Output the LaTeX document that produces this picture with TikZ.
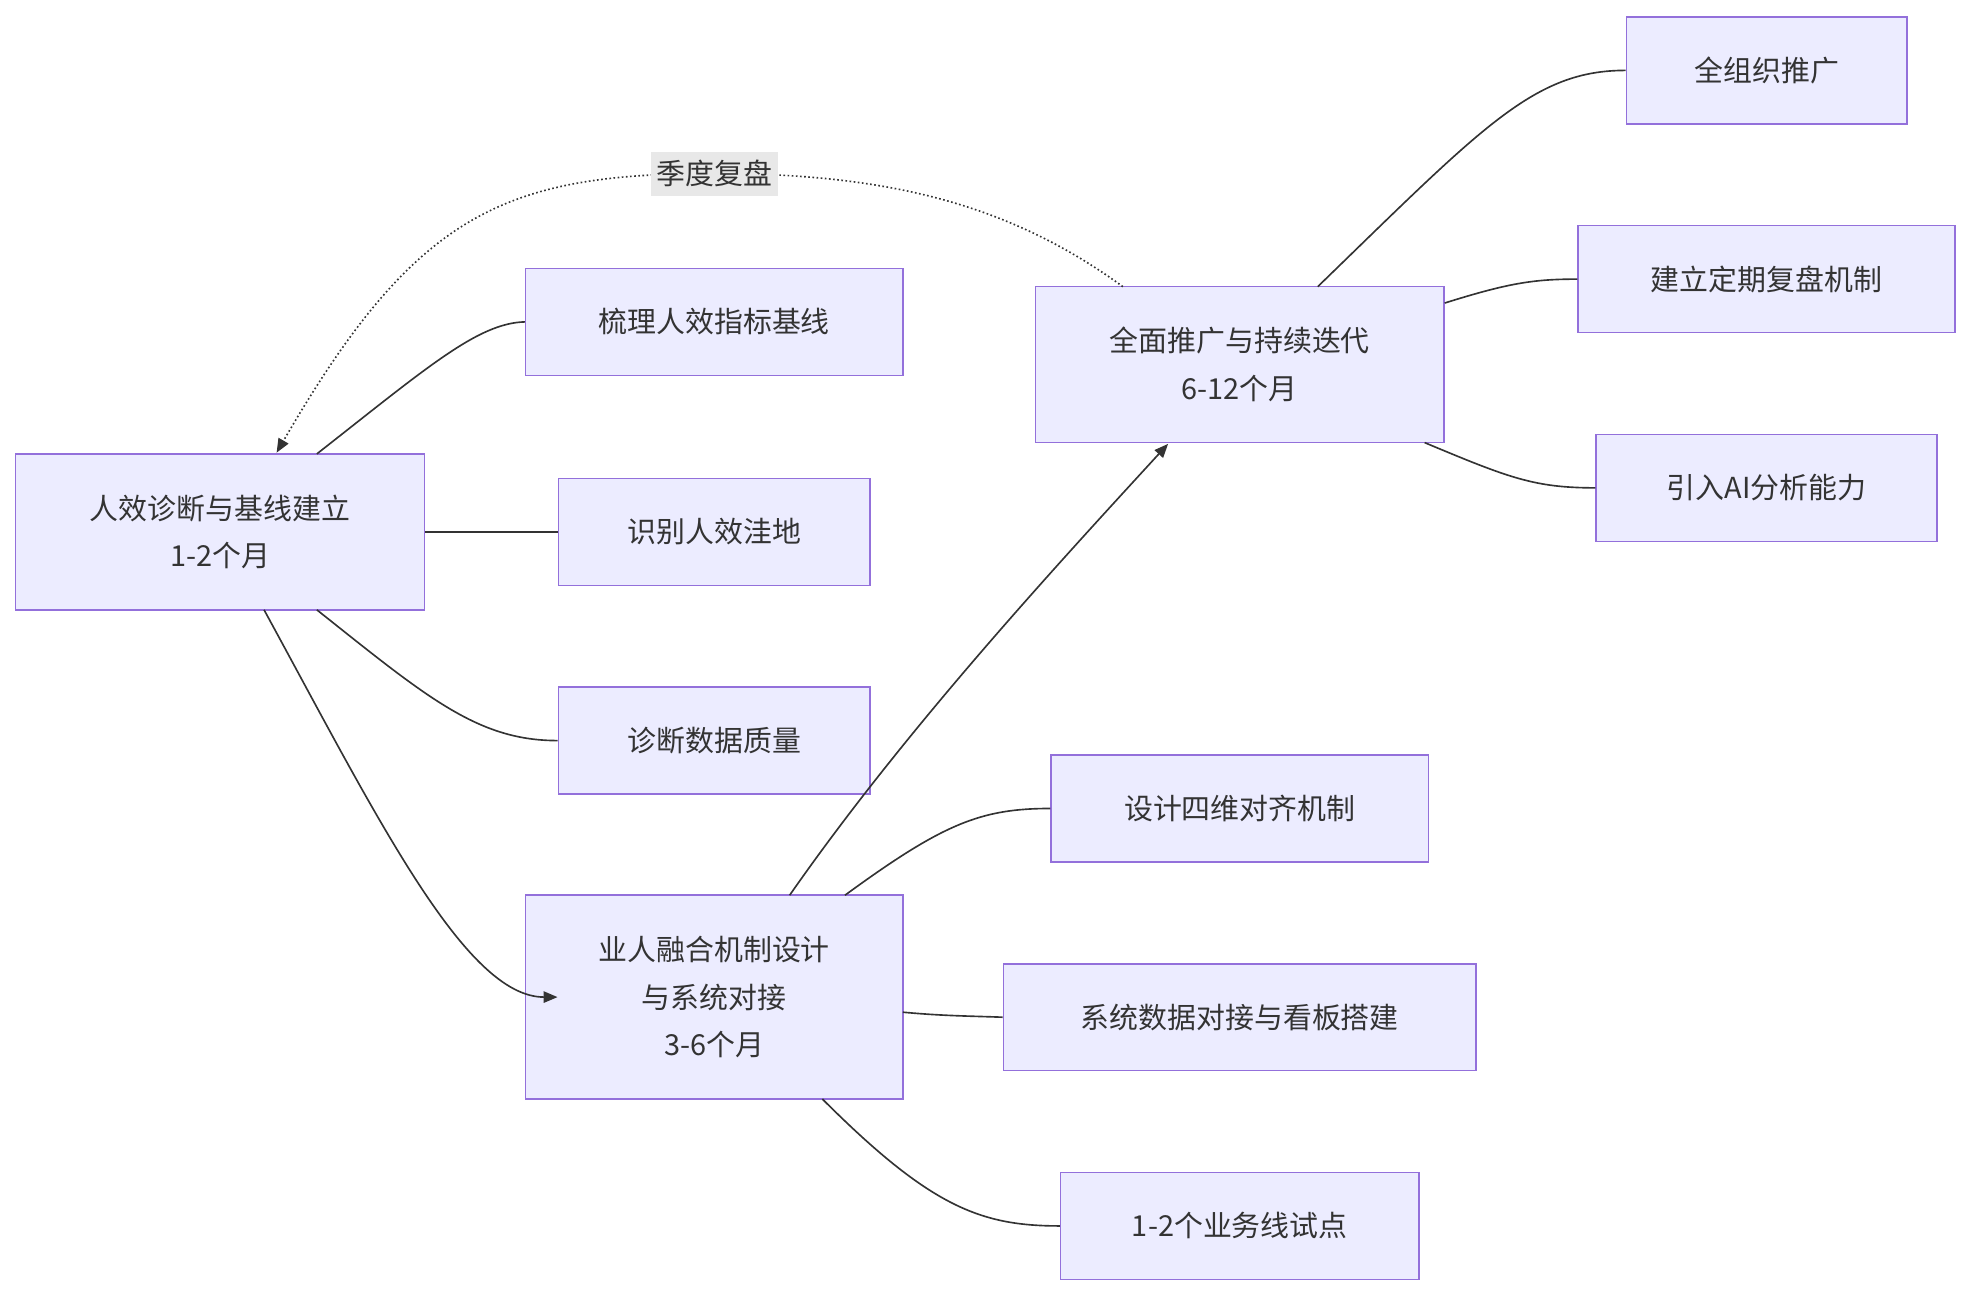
\documentclass[tikz,border=0pt]{standalone}
\usepackage{fontspec}
\setmainfont{Noto Sans CJK SC}
\usetikzlibrary{arrows.meta}
\begin{document}
\begin{tikzpicture}[x=1pt,y=1pt,
  box/.style={draw=mmstroke,fill=mmfill,line width=1.2pt,inner sep=0pt,align=center,text=mmtext,font=\fontsize{23}{38}\selectfont},
  ln/.style={draw=mmline,line width=1.3pt},
  ar/.style={ln,-{Triangle[length=11pt,width=9pt]}}]
\definecolor{mmfill}{HTML}{ECECFF}
\definecolor{mmstroke}{HTML}{9370DB}
\definecolor{mmline}{HTML}{333333}
\definecolor{mmtext}{HTML}{333333}
\definecolor{lblbg}{HTML}{E8E8E8}
\useasboundingbox (0,0) rectangle (1562,-1027);
\node[box,minimum width=325,minimum height=124] (A) at (175,-423) {人效诊断与基线建立\\1-2个月};
\node[box,minimum width=300,minimum height=85] (B1) at (568,-256) {梳理人效指标基线};
\node[box,minimum width=248,minimum height=85] (B2) at (568,-423) {识别人效洼地};
\node[box,minimum width=248,minimum height=85] (B3) at (568,-589) {诊断数据质量};
\node[box,minimum width=300,minimum height=162] (C) at (568,-793) {业人融合机制设计\\与系统对接\\3-6个月};
\node[box,minimum width=300,minimum height=85] (C1) at (986,-643) {设计四维对齐机制};
\node[box,minimum width=376,minimum height=85] (C2) at (986,-809) {系统数据对接与看板搭建};
\node[box,minimum width=285,minimum height=85] (C3) at (986,-975) {1-2个业务线试点};
\node[box,minimum width=325,minimum height=124] (D) at (986,-290) {全面推广与持续迭代\\6-12个月};
\node[box,minimum width=223,minimum height=85] (D1) at (1405,-56) {全组织推广};
\node[box,minimum width=300,minimum height=85] (D2) at (1405,-222) {建立定期复盘机制};
\node[box,minimum width=271,minimum height=85] (D3) at (1405,-388) {引入AI分析能力};
\coordinate (a1) at (252,-361); \coordinate (a3) at (252,-485); \coordinate (a4) at (210,-485);
\draw[ln] (a1) .. controls (340,-292) and (380,-257) .. (B1.west);
\draw[ln] (A.east) -- (B2.west);
\draw[ln] (a3) .. controls (340,-555) and (380,-589) .. (B3.west);
\draw[ar] (a4) .. controls (300,-650) and (370,-793) .. (B3.west |- C.west);
\coordinate (c0) at (628,-712); \coordinate (d0) at (929,-353);
\draw[ar] (c0) .. controls (720,-580) and (840,-450) .. (d0);
\coordinate (c1) at (672,-712);
\draw[ln] (c1) .. controls (750,-655) and (780,-643) .. (C1.west);
\coordinate (c2) at (718,-805);
\draw[ln] (c2) .. controls (750,-808) and (770,-808) .. (C2.west);
\coordinate (c3) at (654,-874);
\draw[ln] (c3) .. controls (740,-960) and (780,-975) .. (C3.west);
\coordinate (d1) at (1048,-228); \coordinate (d2) at (1149,-241); \coordinate (d3) at (1133,-352);
\draw[ln] (d1) .. controls (1180,-100) and (1220,-56) .. (D1.west);
\draw[ln] (d2) .. controls (1200,-225) and (1220,-222) .. (D2.west);
\draw[ln] (d3) .. controls (1200,-380) and (1220,-388) .. (D3.west);
\coordinate (ds) at (893,-228); \coordinate (de) at (220,-360);
\draw[ln,dotted,line width=1.3pt,-{Triangle[length=11pt,width=9pt]}] (ds) .. controls (800,-160) and (700,-138) .. (568,-138) .. controls (400,-138) and (330,-170) .. (de);
\node[fill=lblbg,text=mmtext,inner sep=2pt,minimum width=101,minimum height=35,font=\fontsize{23}{28}\selectfont] (L) at (568,-138) {季度复盘};
\end{tikzpicture}
\end{document}
